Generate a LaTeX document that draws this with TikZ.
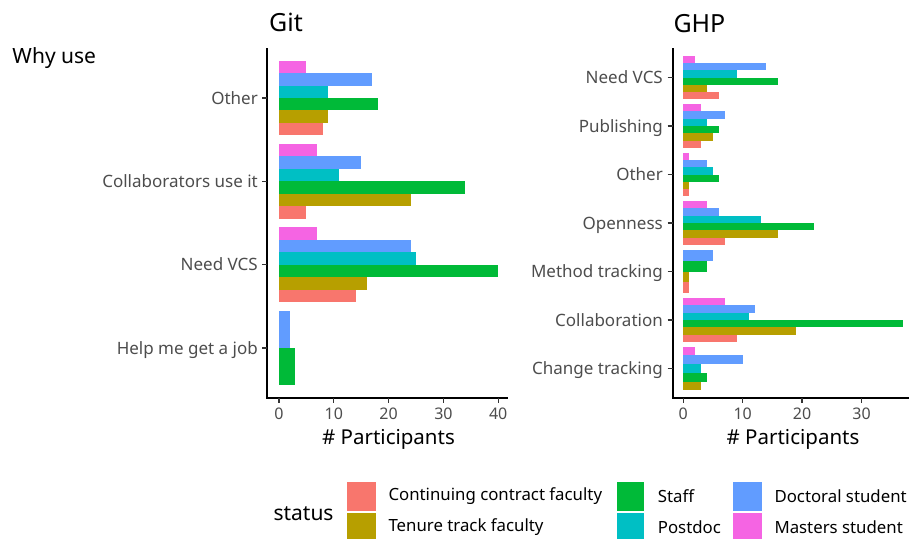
\documentclass[tikz,border=0pt]{standalone}
\usepackage{fontspec}
\setmainfont{Noto Sans}
\definecolor{cRed}{HTML}{F8766D}
\definecolor{cOli}{HTML}{B79F00}
\definecolor{cGrn}{HTML}{00BA38}
\definecolor{cTea}{HTML}{00BFC4}
\definecolor{cBlu}{HTML}{619CFF}
\definecolor{cPnk}{HTML}{F564E3}
\definecolor{axgray}{HTML}{4D4D4D}
% #1 x0, #2 px per unit, #3 centre y, #4 spacing, #5 number of bars, #6 colour/value list (bottom to top)
\newcommand{\bargroup}[6]{%
  \foreach \cc/\vv [count=\ii from 0] in {#6} {%
    \fill[\cc] ({#1},{#3+0.45*#4-\ii*0.9*#4/#5}) rectangle ({#1+#2*\vv},{#3+0.45*#4-(\ii+1)*0.9*#4/#5});
  }%
}
\begin{document}
\begin{tikzpicture}[x=1pt,y=-1pt,
  catlab/.style={anchor=base east,text=axgray,inner sep=0pt,font=\fontsize{17}{20}\selectfont},
  ticklab/.style={anchor=base,text=axgray,inner sep=0pt,font=\fontsize{16}{19}\selectfont},
  axtitle/.style={anchor=base,inner sep=0pt,font=\fontsize{20.5}{23}\selectfont},
  ptitle/.style={anchor=base west,inner sep=0pt,font=\fontsize{25}{28}\selectfont},
  legtext/.style={anchor=west,inner sep=0pt,font=\fontsize{16.8}{19}\selectfont},
  axline/.style={line width=1.6pt,black},
  tickline/.style={line width=1.3pt,black!80}]
\useasboundingbox (0,0) rectangle (909,538);

% ---------- Left panel: Git ----------
\bargroup{279}{5.48}{98}{83.3}{6}{cRed/8,cOli/9,cGrn/18,cTea/9,cBlu/17,cPnk/5}
\bargroup{279}{5.48}{181.3}{83.3}{6}{cRed/5,cOli/24,cGrn/34,cTea/11,cBlu/15,cPnk/7}
\bargroup{279}{5.48}{264.7}{83.3}{6}{cRed/14,cOli/16,cGrn/40,cTea/25,cBlu/24,cPnk/7}
\bargroup{279}{5.48}{348}{83.3}{2}{cGrn/3,cBlu/2}

\coordinate (gtop) at (267,48);
\coordinate (gcorner) at (267,398);
\coordinate (gright) at (508,398);
\draw[axline] (gtop) -- (gcorner) -- (gright);

\foreach \yy/\lab/\nm in {98/Other/ga, 181.3/Collaborators use it/gb, 264.7/Need VCS/gc, 348/Help me get a job/gd} {
  \draw[tickline] (262,\yy) -- (267,\yy);
  \node[catlab] (\nm) at (258,\yy+6) {\lab};
}
\foreach \vv [count=\ii] in {0,10,20,30,40} {
  \draw[tickline] ({279+5.48*\vv},398) -- ({279+5.48*\vv},402.5);
  \node[ticklab] (gx\ii) at ({279+5.48*\vv},419) {\vv};
}
\node[axtitle] (gxt) at (388.5,444) {\# Participants};
\node[ptitle] (gtitle) at (269,31.7) {Git};
\node[anchor=base west,inner sep=0pt,font=\fontsize{21}{24}\selectfont] (why) at (12.3,63.3) {Why use};

% ---------- Right panel: GHP ----------
\bargroup{683.3}{5.94}{77.5}{48.5}{6}{cRed/6,cOli/4,cGrn/16,cTea/9,cBlu/14,cPnk/2}
\bargroup{683.3}{5.94}{126}{48.5}{6}{cRed/3,cOli/5,cGrn/6,cTea/4,cBlu/7,cPnk/3}
\bargroup{683.3}{5.94}{174.5}{48.5}{6}{cRed/1,cOli/1,cGrn/6,cTea/5,cBlu/4,cPnk/1}
\bargroup{683.3}{5.94}{223}{48.5}{6}{cRed/7,cOli/16,cGrn/22,cTea/13,cBlu/6,cPnk/4}
\bargroup{683.3}{5.94}{271.5}{48.5}{4}{cRed/1,cOli/1,cGrn/4,cBlu/5}
\bargroup{683.3}{5.94}{320}{48.5}{6}{cRed/9,cOli/19,cGrn/37,cTea/11,cBlu/12,cPnk/7}
\bargroup{683.3}{5.94}{368.5}{48.5}{5}{cOli/3,cGrn/4,cTea/3,cBlu/10,cPnk/2}

\coordinate (htop) at (672.7,48);
\coordinate (hcorner) at (672.7,398);
\coordinate (hright) at (909,398);
\draw[axline] (htop) -- (hcorner) -- (hright);

\foreach \yy/\lab/\nm in {77.5/Need VCS/ha, 126/Publishing/hb, 174.5/Other/hc, 223/Openness/hd, 271.5/Method tracking/he, 320/Collaboration/hf, 368.5/Change tracking/hg} {
  \draw[tickline] (667.5,\yy) -- (672.7,\yy);
  \node[catlab] (\nm) at (663,\yy+6) {\lab};
}
\foreach \vv [count=\ii] in {0,10,20,30} {
  \draw[tickline] ({683.3+5.94*\vv},398) -- ({683.3+5.94*\vv},402.5);
  \node[ticklab] (hx\ii) at ({683.3+5.94*\vv},419.5) {\vv};
}
\node[axtitle] (hxt) at (793,444) {\# Participants};
\node[ptitle] (htitle) at (673.3,32.3) {GHP};

% ---------- Legend ----------
\node[anchor=base west,inner sep=0pt,font=\fontsize{21}{24}\selectfont] (status) at (273.3,520) {status};
\fill[cRed] (347.3,482.3) rectangle (376,510.7);
\fill[cOli] (347.3,513.3) rectangle (376,541.7);
\fill[cGrn] (616.7,482.3) rectangle (644.3,510.7);
\fill[cTea] (616.7,513.3) rectangle (644.3,541.7);
\fill[cBlu] (733.3,482.3) rectangle (761.7,510.7);
\fill[cPnk] (733.3,513.3) rectangle (761.7,541.7);
\node[legtext] (l1) at (388.3,496.5) {Continuing contract faculty};
\node[legtext] (l2) at (388.3,527.5) {Tenure track faculty};
\node[legtext] (l3) at (657.7,496.5) {Staff};
\node[legtext] (l4) at (657.7,527.5) {Postdoc};
\node[legtext] (l5) at (774.3,496.5) {Doctoral student};
\node[legtext] (l6) at (774.3,527.5) {Masters student};
\end{tikzpicture}
\end{document}
